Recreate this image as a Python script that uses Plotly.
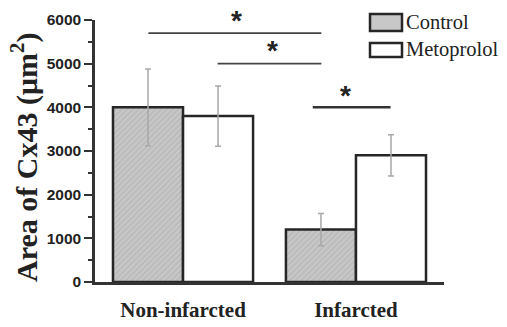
import plotly.graph_objects as go

categories = ["Non-infarcted", "Infarcted"]
control_values = [4000, 1200]
control_err = [880, 370]
metoprolol_values = [3800, 2900]
metoprolol_err = [690, 470]
y_ticks = [0, 1000, 2000, 3000, 4000, 5000, 6000]

# significance brackets
sig_x0 = [-0.2, 0.2, 0.75]
sig_x1 = [0.8, 0.8, 1.2]
sig_y = [5700, 5000, 4000]
star_x = [0.31, 0.52, 0.94]
star_y = [5980, 5300, 4280]

BAR_LINE = "#262626"
ERR = "#a8a8a8"

# plot area in page pixels (page has an 8px body margin)
PX0, PX1, PY0, PY1 = 95, 444, 20, 282
W, H = 499, 319
PW, PH = PX1 - PX0, PY1 - PY0


def px(x):
    return (x - PX0) / PW


def py(y):
    return (PY1 - y) / PH


fig = go.Figure()
fig.add_trace(go.Bar(
    x=categories, y=control_values, name="Control",
    marker=dict(color="#c4c4c4", line=dict(color=BAR_LINE, width=2.5),
                pattern=dict(shape="/", size=4, solidity=0.35,
                             fgcolor="#dcdcdc", bgcolor="#bcbcbc")),
    error_y=dict(type="data", array=control_err, color=ERR, thickness=1.5, width=3),
))
fig.add_trace(go.Bar(
    x=categories, y=metoprolol_values, name="Metoprolol",
    marker=dict(color="white", line=dict(color=BAR_LINE, width=2.5)),
    error_y=dict(type="data", array=metoprolol_err, color=ERR, thickness=1.5, width=3),
))

for i in range(3):
    fig.add_shape(type="line", xref="x", yref="y",
                  x0=sig_x0[i], x1=sig_x1[i], y0=sig_y[i], y1=sig_y[i],
                  line=dict(color="#444" if i < 2 else "#333", width=1.6 if i < 2 else 2.5))
    fig.add_annotation(x=star_x[i], y=star_y[i], xref="x", yref="y", text="<b>*</b>",
                       showarrow=False, font=dict(family="Liberation Sans", size=28, color="#222"),
                       yanchor="middle")

# legend drawn manually
fig.add_shape(type="rect", xref="paper", yref="paper",
              x0=px(370), x1=px(402), y0=py(31), y1=py(14),
              line=dict(color=BAR_LINE, width=2.5), fillcolor="#c8c8c8")
fig.add_shape(type="rect", xref="paper", yref="paper",
              x0=px(370), x1=px(402), y0=py(57), y1=py(43),
              line=dict(color=BAR_LINE, width=2.5), fillcolor="white")
fig.add_annotation(xref="paper", yref="paper", x=px(404), y=py(22),
                   text="Control", showarrow=False, xanchor="left", yanchor="middle",
                   font=dict(family="Liberation Serif", size=20.5, color="#222"))
fig.add_annotation(xref="paper", yref="paper", x=px(404), y=py(50),
                   text="Metoprolol", showarrow=False, xanchor="left", yanchor="middle",
                   font=dict(family="Liberation Serif", size=20.5, color="#222"))

# y axis title
fig.add_annotation(xref="paper", yref="paper", x=px(24), y=py(158), textangle=-90,
                   text="<b>Area of Cx43 (μm<sup>2</sup>)</b>", showarrow=False,
                   xanchor="center", yanchor="middle",
                   font=dict(family="Liberation Serif", size=30, color="#222"))

fig.update_layout(
    width=W, height=H,
    margin=dict(l=PX0 - 8, r=W - (PX1 - 8), t=PY0 - 8, b=H - (PY1 - 8)),
    paper_bgcolor="white", plot_bgcolor="white",
    barmode="group", bargap=0.19, bargroupgap=0,
    showlegend=False,
    xaxis=dict(type="category", range=[-0.509, 1.509], showline=True, automargin=False,
               linecolor="#333", linewidth=2.5, ticks="", showgrid=False,
               tickfont=dict(family="Liberation Serif", size=21, weight="bold", color="#222"),
               ticklabelstandoff=7),
    yaxis=dict(range=[0, 6000], tickvals=y_ticks, showline=True, linecolor="#333",
               linewidth=2.5, ticks="outside", ticklen=8, tickwidth=2, tickcolor="#333",
               showgrid=False, zeroline=False, automargin=False,
               minor=dict(dtick=500, ticks="outside", ticklen=4, tickwidth=1.5, tickcolor="#333"),
               tickfont=dict(family="Liberation Sans", size=15.5, weight="bold", color="#222")),
)

fig.write_html("out.html")
